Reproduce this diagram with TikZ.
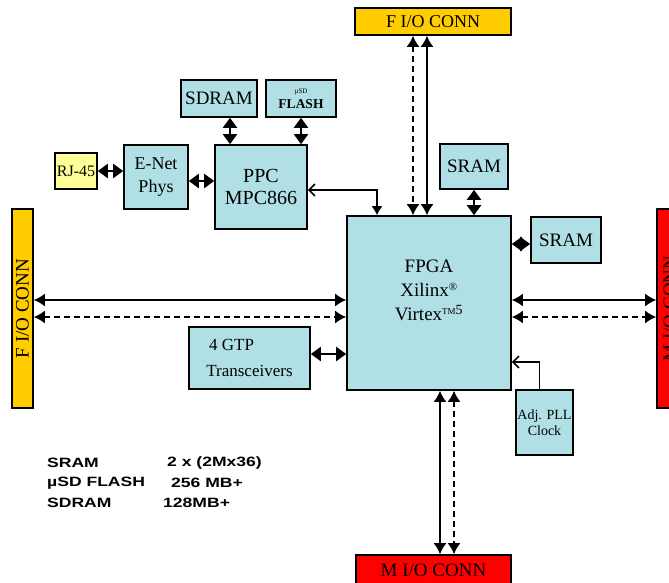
\documentclass[tikz,border=0pt]{standalone}
\usepackage{fontspec}
\setmainfont{Liberation Serif}
\newfontfamily\widesans[FakeStretch=1.3]{Liberation Sans}
\usetikzlibrary{arrows.meta}
\definecolor{boxblue}{RGB}{176,224,230}
\definecolor{connorange}{RGB}{255,204,0}
\definecolor{rjyellow}{RGB}{255,255,153}
\definecolor{connred}{RGB}{255,0,0}
\tikzset{
  blk/.style={draw=black, line width=1.6pt, fill=boxblue, inner sep=0pt, align=center,
    font=\fontsize{19}{23}\selectfont},
  fconn/.style={blk, fill=connorange},
  mconn/.style={blk, fill=connred},
  bus/.style={line width=1.8pt, {Latex[length=11pt,width=13pt]}-{Latex[length=11pt,width=13pt]}},
  dbus/.style={bus, dash pattern=on 6pt off 4pt},
  link/.style={line width=2pt, {Triangle[length=10pt,width=14pt]}-{Triangle[length=10pt,width=14pt]}},
  ctl/.style={line width=1.6pt},
  spec/.style={anchor=west, inner sep=0pt, font=\widesans\bfseries\fontsize{13.5}{14}\selectfont},
}
\begin{document}
\begin{tikzpicture}[x=1pt,y=-1pt]
      \useasboundingbox (0,0) rectangle (669,582);
      \node[fconn, minimum width=156pt, minimum height=27pt, font=\fontsize{18}{18}\selectfont] (fiotop) at (433,21.5) {F I/O CONN};
      \node[blk, minimum width=76pt, minimum height=37pt] (sdram) at (219,98.5) {SDRAM};
      \node[blk, minimum width=70pt, minimum height=37pt, font=\fontsize{13.5}{14}\selectfont\bfseries] (flash) at (301,98.5)
        {\fontsize{7}{8}\selectfont\mdseries µSD\\[1pt]FLASH};
      \node[blk, fill=rjyellow, minimum width=42pt, minimum height=36pt, font=\fontsize{16}{16}\selectfont] (rj) at (76,171)
        {RJ-45};
      \node[blk, minimum width=64pt, minimum height=64pt, font=\fontsize{18}{23}\selectfont] (enet) at (156,177)
        {E-Net\\Phys};
      \node[blk, minimum width=92pt, minimum height=84pt, font=\fontsize{20}{22}\selectfont] (ppc) at (261,187)
        {PPC\\MPC866};
      \node[blk, minimum width=68pt, minimum height=45pt] (sramtop) at (474,166.5) {SRAM};
      \node[blk, minimum width=70pt, minimum height=46pt] (sramright) at (566,240) {SRAM};
      \node[blk, minimum width=164pt, minimum height=174pt] (fpga) at (429,303) {};
      \node[align=center, font=\fontsize{19}{24}\selectfont] (fpgalbl) at ([yshift=-75pt]fpga.north)
        {FPGA\\Xilinx\textsuperscript{\fontsize{11}{11}\selectfont ®}\\
         Virtex\textsuperscript{\fontsize{9}{9}\selectfont TM\fontsize{14}{14}\selectfont 5}};
      \node[blk, align=left, minimum width=121pt, minimum height=62pt, font=\fontsize{17}{26}\selectfont] (gtp) at (249.5,358)
        {\,4 GTP\\Transceivers};
      \node[blk, minimum width=57pt, minimum height=65pt, font=\fontsize{14}{16}\selectfont] (pll) at (544.5,422.5)
        {Adj. PLL\\Clock};
      \node[fconn, minimum width=21pt, minimum height=199pt] (fioleft) at (22.5,308.5)
        {\rotatebox{90}{F I/O CONN}};
      \node[mconn, minimum width=26pt, minimum height=199pt] (mioright) at (670,308.5)
        {\rotatebox{90}{M I/O CONN}};
      \node[mconn, minimum width=155pt, minimum height=30pt] (miobot) at (433.5,570) {M I/O CONN};
      \draw[link] (rj.east) -- (rj.east -| enet.west);
      \draw[link] ([yshift=-4pt]enet.east) -- ([yshift=-4pt]enet.east -| ppc.west);
      \draw[link] ([xshift=11pt]sdram.south) -- ([xshift=11pt]sdram.south |- ppc.north);
      \draw[link] (flash.south) -- (flash.south |- ppc.north);
      \draw[link] (sramtop.south) -- (sramtop.south |- fpga.north);
      \draw[link] ([yshift=-4pt]sramright.west) -- ([yshift=-4pt]sramright.west -| fpga.east);
      \draw[link] ([yshift=4pt]gtp.east) -- ([yshift=4pt]gtp.east -| fpga.west);
      \draw[ctl, {Straight Barb[length=6pt,width=12pt]}-{Latex[length=9pt,width=11pt]}]
        ([yshift=-3pt]ppc.east) -| ([xshift=-52pt]fpga.north);
      \draw[ctl, -{Straight Barb[length=6pt,width=12pt]}]
        ([xshift=-5pt]pll.north) |- ([yshift=-59pt]fpga.east);
      \draw[bus] ([xshift=-6pt]fiotop.south) -- ([xshift=-6pt]fiotop.south |- fpga.north);
      \draw[dbus] ([xshift=-20pt]fiotop.south) -- ([xshift=-20pt]fiotop.south |- fpga.north);
      \draw[bus] ([yshift=8.5pt]fioleft.east) -- ([yshift=8.5pt]fioleft.east -| fpga.west);
      \draw[dbus] ([yshift=-8.5pt]fioleft.east) -- ([yshift=-8.5pt]fioleft.east -| fpga.west);
      \draw[bus] ([yshift=8.5pt]mioright.west -| fpga.east) -- ([yshift=8.5pt]mioright.west);
      \draw[dbus] ([yshift=-8.5pt]mioright.west -| fpga.east) -- ([yshift=-8.5pt]mioright.west);
      \draw[bus] ([xshift=6.5pt]miobot.north |- fpga.south) -- ([xshift=6.5pt]miobot.north);
      \draw[dbus] ([xshift=20.5pt]miobot.north |- fpga.south) -- ([xshift=20.5pt]miobot.north);
      \node[spec] (ksram) at (47,463) {SRAM};
      \node[spec] (vsram) at (167,463) {2 x (2Mx36)};
      \node[spec] (kflash) at (47,483) {µSD FLASH};
      \node[spec] (vflash) at (171,483) {256 MB+};
      \node[spec] (ksdram) at (47,503) {SDRAM};
      \node[spec] (vsdram) at (163,503) {128MB+};
    \end{tikzpicture}
\end{document}
